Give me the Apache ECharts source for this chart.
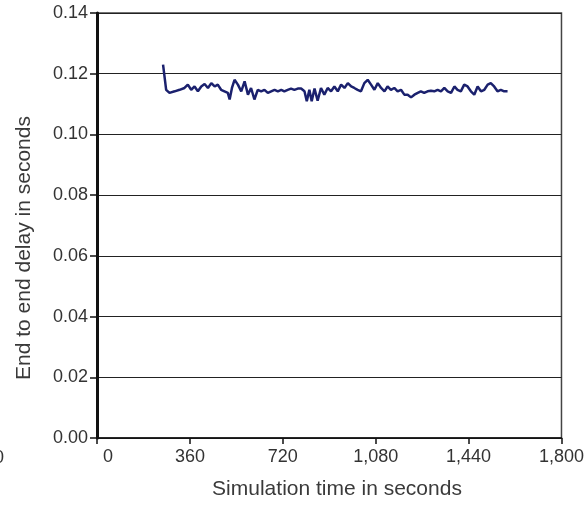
<!DOCTYPE html>
<html>
<head>
<meta charset="utf-8">
<script src="https://cdn.jsdelivr.net/npm/echarts@6/dist/echarts.min.js"></script>
<style>
  html, body { margin: 0; padding: 0; background: #fff; }
  #chart { width: 587px; height: 506px; }
</style>
</head>
<body>
<div id="chart"></div>
<script>
// 数据：仿真时间(秒) 与 端到端时延(秒)
const timeSec = [
  256, 268, 281, 301, 320, 339, 352, 365, 378, 391, 404, 417, 430, 443, 456,
  468, 481, 494, 507, 514, 523, 533, 546, 559, 572, 585, 597, 610, 623, 636,
  649, 662, 675, 688, 701, 714, 726, 739, 752, 765, 778, 791, 804, 813, 823,
  832, 843, 855, 868, 881, 894, 907, 920, 933, 946, 959, 972, 985, 997, 1010,
  1023, 1036, 1049, 1062, 1075, 1088, 1101, 1114, 1126, 1139, 1152, 1165, 1178, 1191, 1204,
  1217, 1230, 1243, 1255, 1268, 1281, 1294, 1307, 1320, 1333, 1346, 1359, 1372, 1385, 1397,
  1410, 1423, 1436, 1449, 1462, 1475, 1488, 1501, 1514, 1526, 1539, 1552, 1565, 1578, 1591
];
const delay = [
  0.1230, 0.1147, 0.1137, 0.1142, 0.1147, 0.1153, 0.1164, 0.1147, 0.1158, 0.1142, 0.1158, 0.1166, 0.1153, 0.1169, 0.1158,
  0.1164, 0.1147, 0.1142, 0.1137, 0.1115, 0.1153, 0.1180, 0.1164, 0.1142, 0.1175, 0.1131, 0.1153, 0.1115, 0.1147, 0.1142,
  0.1147, 0.1137, 0.1142, 0.1147, 0.1142, 0.1147, 0.1142, 0.1147, 0.1151, 0.1147, 0.1151, 0.1151, 0.1142, 0.1109, 0.1147,
  0.1109, 0.1151, 0.1111, 0.1153, 0.1131, 0.1153, 0.1142, 0.1158, 0.1142, 0.1164, 0.1153, 0.1169, 0.1158, 0.1153, 0.1147,
  0.1142, 0.1169, 0.1180, 0.1164, 0.1147, 0.1169, 0.1153, 0.1142, 0.1158, 0.1147, 0.1153, 0.1142, 0.1147, 0.1131, 0.1131,
  0.1122, 0.1131, 0.1137, 0.1142, 0.1137, 0.1142, 0.1144, 0.1142, 0.1147, 0.1142, 0.1153, 0.1142, 0.1137, 0.1158, 0.1147,
  0.1142, 0.1164, 0.1158, 0.1142, 0.1131, 0.1158, 0.1142, 0.1147, 0.1164, 0.1169, 0.1158, 0.1142, 0.1147, 0.1142, 0.1142
];
const xTicks = [0, 360, 720, 1080, 1440, 1800];
const yTicks = [0, 0.02, 0.04, 0.06, 0.08, 0.10, 0.12, 0.14];

const points = timeSec.map((t, i) => [t, delay[i]]);

const myChart = echarts.init(document.getElementById('chart'), null, { renderer: 'canvas' });

const labelFont = {
  fontFamily: 'Liberation Sans, Arial, sans-serif',
  fontSize: 18,
  color: '#333'
};

const option = {
  animation: false,
  backgroundColor: '#fff',
  grid: {
    left: 97, right: 25, top: 13, bottom: 68,
    show: true, borderColor: '#444', borderWidth: 1.5,
    backgroundColor: 'transparent'
  },
  xAxis: {
    type: 'value',
    min: xTicks[0],
    max: xTicks[xTicks.length - 1],
    interval: 360,
    axisLine: { show: true, lineStyle: { color: '#111', width: 1.5 } },
    axisTick: { show: true, length: 6, lineStyle: { color: '#111', width: 1.5 } },
    axisLabel: Object.assign({}, labelFont, {
      margin: 10,
      formatter: v => v === 0 ? '{z|0}' : v.toLocaleString('en-US'),
      rich: { z: Object.assign({}, labelFont, { padding: [0, 0, 0, 22] }) }
    }),
    splitLine: { show: false }
  },
  yAxis: {
    type: 'value',
    min: yTicks[0],
    max: yTicks[yTicks.length - 1],
    interval: 0.02,
    axisLine: { show: true, lineStyle: { color: '#111', width: 3 } },
    axisTick: { show: true, length: 7, lineStyle: { color: '#111', width: 1.5 } },
    axisLabel: Object.assign({}, labelFont, {
      margin: 9,
      formatter: v => v.toFixed(2)
    }),
    splitLine: { show: true, lineStyle: { color: '#222', width: 1.2 } }
  },
  graphic: [
    {
      type: 'text',
      x: 24, y: 248,
      rotation: Math.PI / 2,
      style: Object.assign({}, labelFont, {
        text: 'End to end delay in seconds',
        fill: '#3a3a3a',
        fontSize: 21,
        align: 'center',
        verticalAlign: 'middle'
      })
    },
    {
      type: 'text',
      x: 337, y: 489,
      style: Object.assign({}, labelFont, {
        text: 'Simulation time in seconds',
        fill: '#3a3a3a',
        fontSize: 21,
        align: 'center',
        verticalAlign: 'middle'
      })
    },
    {
      type: 'text',
      x: -6, y: 458,
      style: Object.assign({}, labelFont, {
        text: '0',
        fill: '#333',
        align: 'left',
        verticalAlign: 'middle'
      })
    }
  ],
  series: [
    {
      type: 'line',
      data: points,
      showSymbol: false,
      lineStyle: { color: '#1b216e', width: 2.5 }
    }
  ]
};

option && myChart.setOption(option);
</script>
</body>
</html>
